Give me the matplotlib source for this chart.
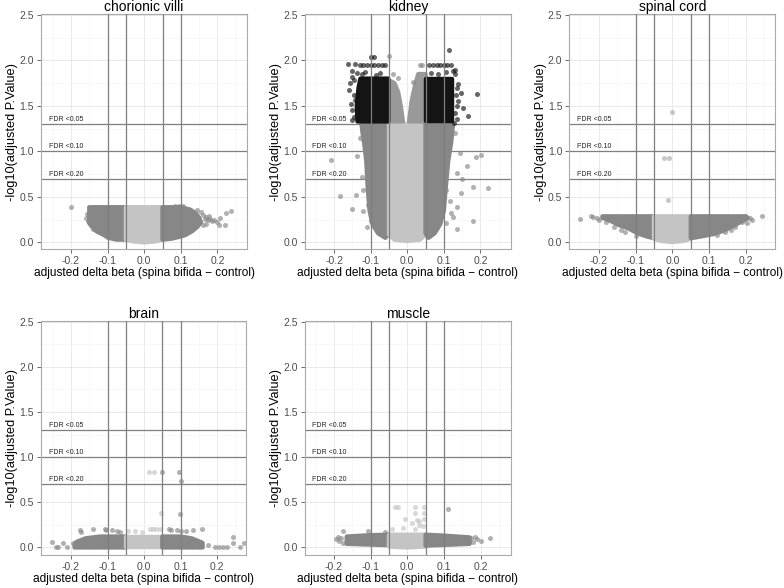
import matplotlib
matplotlib.use("Agg")
import matplotlib.pyplot as plt
from matplotlib.patches import Polygon
from matplotlib.ticker import MultipleLocator, FormatStrFormatter

plt.rcParams["font.family"] = ["Liberation Sans", "DejaVu Sans"]
plt.rcParams["axes.unicode_minus"] = False

# colours of the point classes
LIGHT = "#c4c4c4"   # small effect, not significant
DARK = "#878787"    # |delta beta| > 0.05 or significant
MID = "#999999"
BLACK = "#141414"   # both

fdr_cut = [1.30, 1.00, 0.70]
fdr_text = ["FDR <0.05", "FDR <0.10", "FDR <0.20"]
db_cut = [-0.1, -0.05, 0.05, 0.1]

# ---- chorionic villi: dense regions (outline of point centres) + single points
cv_dark_left = [(-0.15, 0.385), (-0.05, 0.385), (-0.05, 0.03), (-0.075, 0.03), (-0.098, 0.05),
                (-0.112, 0.085), (-0.13, 0.12), (-0.142, 0.17), (-0.15, 0.21), (-0.15, 0.3)]
cv_light = [(-0.05, 0.385), (0.05, 0.385), (0.05, 0.03), (0.03, 0.01), (0.0, 0.0),
            (-0.03, 0.01), (-0.05, 0.03)]
cv_dark_right = [(0.05, 0.385), (0.1, 0.385), (0.125, 0.36), (0.14, 0.32), (0.15, 0.27),
                 (0.155, 0.22), (0.145, 0.17), (0.13, 0.12), (0.112, 0.08), (0.095, 0.06),
                 (0.074, 0.04), (0.05, 0.03)]
cv_dark_x = [-0.2, -0.157, -0.153, -0.139, -0.125, -0.135, -0.158, 0.16, 0.165, 0.17, 0.175,
             0.18, 0.185, 0.17, 0.16, 0.155, 0.145, 0.178, 0.19, 0.2, 0.205, 0.221, 0.207,
             0.223, 0.237, 0.095, 0.085, 0.105]
cv_dark_y = [0.385, 0.31, 0.23, 0.15, 0.135, 0.21, 0.27, 0.3, 0.26, 0.28, 0.24,
             0.26, 0.23, 0.2, 0.19, 0.33, 0.35, 0.29, 0.25, 0.22, 0.19, 0.19, 0.264,
             0.326, 0.348, 0.4, 0.4, 0.395]

# ---- kidney
kd_light = [(-0.05, 1.3), (0.05, 1.3), (0.05, 0.085), (0.035, 0.03), (0.0, 0.015),
            (-0.035, 0.03), (-0.05, 0.085)]
kd_dark_left = [(-0.125, 1.3), (-0.05, 1.3), (-0.05, 0.1), (-0.06, 0.05), (-0.08, 0.1),
                (-0.095, 0.2), (-0.103, 0.35), (-0.108, 0.6), (-0.112, 0.9), (-0.118, 1.1),
                (-0.122, 1.2)]
kd_dark_right = [(0.05, 1.3), (0.125, 1.3), (0.12, 1.1), (0.112, 0.9), (0.105, 0.6),
                 (0.1, 0.35), (0.09, 0.2), (0.075, 0.1), (0.058, 0.05), (0.05, 0.1)]
kd_mid_left = [(-0.05, 1.33), (-0.012, 1.33), (-0.018, 1.5), (-0.025, 1.65), (-0.035, 1.75),
               (-0.05, 1.78)]
kd_mid_right = [(0.005, 1.33), (0.05, 1.33), (0.05, 1.85), (0.03, 1.85), (0.02, 1.7),
                (0.012, 1.55)]
kd_black_left = [(-0.136, 1.33), (-0.052, 1.33), (-0.052, 1.8), (-0.128, 1.8), (-0.133, 1.7),
                 (-0.138, 1.5)]
kd_black_right = [(0.052, 1.33), (0.122, 1.33), (0.122, 1.8), (0.052, 1.8)]
kd_black_x = [-0.13, -0.12, -0.11, -0.1, -0.09, -0.08, -0.07, -0.06, -0.1, -0.09, -0.161,
              -0.143, -0.152, -0.156, -0.147, -0.15, -0.145, 0.06, 0.07, 0.08, 0.09, 0.1,
              0.11, 0.12, 0.114, 0.191, 0.166, 0.148, 0.153, 0.135, 0.14, 0.13, 0.135,
              -0.15, -0.155, -0.16, -0.145, -0.152, -0.142, -0.138, -0.125, -0.115, -0.085,
              -0.075, 0.13, 0.135, 0.132, 0.14, 0.13, 0.125, 0.128, 0.065, 0.085, 0.105]
kd_black_y = [1.95, 1.95, 1.95, 1.95, 1.95, 1.95, 1.95, 1.95, 2.04, 2.04, 1.96,
              1.96, 1.82, 1.75, 1.62, 1.45, 1.38, 1.95, 1.95, 1.95, 1.95, 1.95,
              1.95, 1.95, 2.12, 1.63, 1.39, 1.64, 1.48, 1.7, 1.55, 1.9, 1.36,
              1.35, 1.52, 1.68, 1.78, 1.88, 1.57, 1.86, 1.85, 1.87, 1.84,
              1.86, 1.42, 1.5, 1.62, 1.74, 1.85, 1.88, 1.31, 1.86, 1.85, 1.87]
kd_dark_x = [-0.208, -0.184, -0.152, -0.14, -0.12, -0.111, -0.138, -0.124, -0.12, -0.106,
             -0.1, -0.13, 0.203, 0.189, 0.162, 0.221, 0.18, 0.18, 0.148, 0.135, 0.125,
             0.135, 0.107, 0.116, 0.12, 0.107, 0.144, 0.135, 0.15, 0.13, -0.049, -0.025,
             0.016, 0.04, 0.035, -0.04]
kd_dark_y = [0.91, 0.51, 0.37, 0.52, 0.34, 0.17, 0.95, 0.72, 0.58, 0.41,
             0.23, 1.15, 0.96, 0.94, 0.84, 0.6, 0.61, 0.23, 0.54, 0.39, 0.28,
             0.15, 0.58, 0.45, 0.32, 0.21, 0.98, 0.76, 0.7, 1.2, 2.05, 1.81,
             1.76, 1.95, 1.95, 1.85]

# ---- spinal cord
sc_dark_left = [(-0.19, 0.285), (-0.05, 0.285), (-0.05, 0.045), (-0.07, 0.065), (-0.095, 0.1),
                (-0.12, 0.155), (-0.145, 0.19), (-0.17, 0.24), (-0.19, 0.27)]
sc_light = [(-0.05, 0.285), (0.05, 0.285), (0.05, 0.04), (0.03, 0.015), (0.0, 0.005),
            (-0.03, 0.015), (-0.05, 0.04)]
sc_dark_right = [(0.05, 0.285), (0.2, 0.285), (0.205, 0.265), (0.19, 0.235), (0.165, 0.18),
                 (0.14, 0.13), (0.11, 0.09), (0.085, 0.07), (0.05, 0.045)]
sc_dark_x = [-0.251, -0.221, -0.215, -0.205, -0.2, -0.18, -0.16, -0.14, -0.13, -0.1,
             0.243, 0.217, 0.21, 0.202, 0.19, 0.17, 0.16, 0.143, 0.12]
sc_dark_y = [0.26, 0.29, 0.28, 0.27, 0.25, 0.22, 0.17, 0.14, 0.11, 0.07,
             0.29, 0.25, 0.27, 0.21, 0.22, 0.17, 0.14, 0.11, 0.08]
sc_light_x = [0.0, -0.023, -0.009, -0.013]
sc_light_y = [1.43, 0.93, 0.93, 0.47]

# ---- brain
br_dark_left = [(-0.19, 0.0), (-0.05, 0.0), (-0.05, 0.12), (-0.12, 0.12), (-0.16, 0.1),
                (-0.185, 0.06), (-0.19, 0.03)]
br_light = [(-0.05, 0.0), (0.05, 0.0), (0.05, 0.115), (-0.05, 0.115)]
br_dark_right = [(0.05, 0.0), (0.16, 0.0), (0.16, 0.05), (0.13, 0.1), (0.1, 0.12), (0.05, 0.12)]
br_dark_x = [-0.176, -0.172, -0.14, -0.107, -0.103, -0.089, -0.075, -0.066, 0.067, 0.075,
             0.089, 0.1, 0.116, 0.135, 0.158, -0.253, -0.235, -0.221, -0.24, -0.212,
             -0.194, 0.194, 0.205, 0.215, 0.226, 0.242, 0.242, 0.262, 0.273, 0.175,
             0.05, 0.095, 0.1, 0.097]
br_dark_y = [0.19, 0.17, 0.2, 0.2, 0.19, 0.19, 0.18, 0.17, 0.2, 0.19,
             0.19, 0.18, 0.18, 0.19, 0.2, 0.06, 0.0, 0.05, 0.0, 0.0,
             0.05, 0.0, 0.0, 0.0, 0.0, 0.11, 0.05, 0.0, 0.05, 0.03,
             0.83, 0.83, 0.74, 0.375]
br_light_x = [0.016, 0.025, 0.034, 0.043, -0.043, -0.025, -0.007, 0.045, 0.013, 0.027]
br_light_y = [0.2, 0.2, 0.2, 0.2, 0.18, 0.18, 0.17, 0.38, 0.83, 0.83]

# ---- muscle
mu_dark_left = [(-0.165, 0.04), (-0.05, 0.025), (-0.05, 0.14), (-0.1, 0.135), (-0.165, 0.12)]
mu_light = [(-0.05, 0.01), (0.0, 0.0), (0.05, 0.01), (0.05, 0.14), (-0.05, 0.14)]
mu_dark_right = [(0.05, 0.02), (0.17, 0.04), (0.17, 0.11), (0.1, 0.13), (0.05, 0.14)]
mu_dark_x = [-0.175, -0.18, -0.185, -0.19, -0.195, -0.175, -0.106, -0.06, 0.226, 0.2,
             0.19, 0.18, 0.175, 0.185, 0.112]
mu_dark_y = [0.18, 0.1, 0.07, 0.12, 0.09, 0.05, 0.18, 0.17, 0.1, 0.07,
             0.09, 0.06, 0.1, 0.12, 0.42]
mu_light_x = [-0.034, -0.024, 0.021, 0.046, 0.021, 0.046, -0.006, 0.027, 0.032, 0.046,
              0.012, 0.032, 0.021, 0.044, -0.043, -0.011]
mu_light_y = [0.45, 0.45, 0.45, 0.45, 0.38, 0.38, 0.31, 0.3, 0.29, 0.31,
              0.27, 0.25, 0.2, 0.235, 0.2, 0.22]

panels = [
    ("chorionic villi", [0.0523, 0.5765, 0.2628, 0.3997], (-0.282, 0.281), (-0.074, 2.511),
     [(cv_dark_left, DARK), (cv_light, LIGHT), (cv_dark_right, DARK)],
     [(cv_dark_x, cv_dark_y, DARK)]),
    ("kidney", [0.3884, 0.5765, 0.2640, 0.3997], (-0.281, 0.285), (-0.074, 2.511),
     [(kd_dark_left, DARK), (kd_light, LIGHT), (kd_dark_right, DARK), (kd_mid_left, MID),
      (kd_mid_right, MID), (kd_black_left, BLACK), (kd_black_right, BLACK)],
     [(kd_dark_x, kd_dark_y, DARK), (kd_black_x, kd_black_y, BLACK)]),
    ("spinal cord", [0.7262, 0.5765, 0.2624, 0.3997], (-0.28, 0.279), (-0.074, 2.511),
     [(sc_dark_left, DARK), (sc_light, LIGHT), (sc_dark_right, DARK)],
     [(sc_dark_x, sc_dark_y, DARK), (sc_light_x, sc_light_y, "#aaaaaa")]),
    ("brain", [0.0523, 0.0560, 0.2620, 0.3981], (-0.282, 0.28), (-0.085, 2.508),
     [(br_dark_left, DARK), (br_light, LIGHT), (br_dark_right, DARK)],
     [(br_dark_x, br_dark_y, DARK), (br_light_x, br_light_y, LIGHT)]),
    ("muscle", [0.3890, 0.0560, 0.2624, 0.3981], (-0.279, 0.282), (-0.085, 2.508),
     [(mu_dark_left, DARK), (mu_light, LIGHT), (mu_dark_right, DARK)],
     [(mu_dark_x, mu_dark_y, DARK), (mu_light_x, mu_light_y, LIGHT)]),
]

fig = plt.figure(figsize=(7.84, 5.88), dpi=100)

for title, rect, xlim, ylim, regions, singles in panels:
    ax = fig.add_axes(rect)
    ax.set_xlim(*xlim)
    ax.set_ylim(*ylim)

    ax.xaxis.set_major_locator(MultipleLocator(0.1))
    ax.xaxis.set_minor_locator(MultipleLocator(0.05))
    ax.yaxis.set_major_locator(MultipleLocator(0.5))
    ax.yaxis.set_minor_locator(MultipleLocator(0.25))
    ax.grid(True, which="major", color="#e6e6e6", lw=0.6, zorder=0)
    ax.grid(True, which="minor", color="#f4f4f4", lw=0.5, zorder=0)
    ax.set_axisbelow(True)
    ax.tick_params(which="minor", length=0)
    ax.tick_params(which="major", length=3.2, width=0.6, color="#555555",
                   labelsize=7.5, labelcolor="#4d4d4d", pad=1.8)
    ax.xaxis.set_major_formatter(FormatStrFormatter("%.1f"))
    ax.yaxis.set_major_formatter(FormatStrFormatter("%.1f"))
    for sp in ax.spines.values():
        sp.set_color("#aaaaaa")
        sp.set_linewidth(0.8)

    for yc, lab in zip(fdr_cut, fdr_text):
        ax.axhline(yc, color="#7f7f7f", lw=0.9, zorder=1)
        ax.text(-0.26, yc + 0.01, lab, fontsize=5.0, color="#222222",
                ha="left", va="bottom", zorder=1)

    for pts, col in regions:
        ax.add_patch(Polygon(pts, closed=True, facecolor=col, edgecolor=col,
                             lw=3.2, joinstyle="round", zorder=2))
    for xs, ys, col in singles:
        ax.scatter(xs, ys, s=13, color=col, alpha=0.65, lw=0, zorder=2.5)

    for xc in db_cut:
        ax.axvline(xc, color="#7f7f7f", lw=0.9, zorder=3)

    ax.set_title(title, fontsize=10, pad=2)
    ax.set_xlabel("adjusted delta beta (spina bifida \u2212 control)", fontsize=8.6, labelpad=1)
    ax.set_ylabel("-log10(adjusted P.Value)", fontsize=9.2, labelpad=1)

fig.savefig("out.png", dpi=100)
